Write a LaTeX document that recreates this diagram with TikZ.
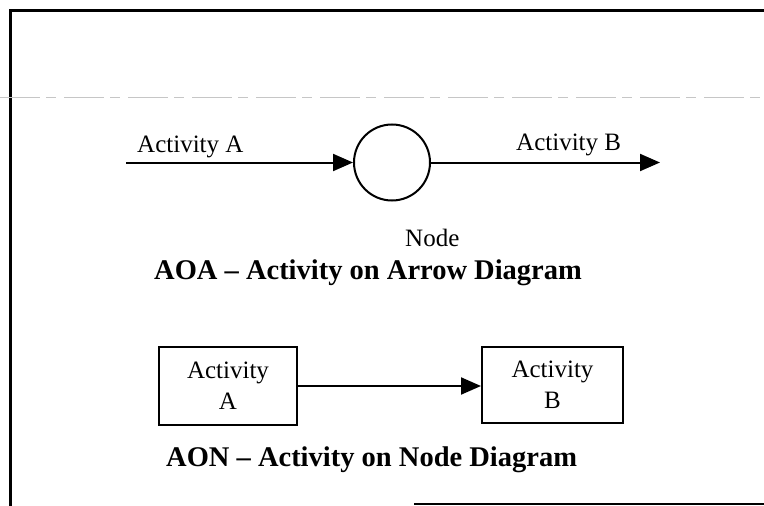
\documentclass[tikz,border=0pt]{standalone}
\usepackage{fontspec}
\setmainfont{Liberation Serif}
\usetikzlibrary{arrows.meta}
\tikzset{
    activity-box/.style = {draw, line width=2pt, rectangle, inner sep=0pt, align=center, font=\fontsize{25}{31}\selectfont},
    event-node/.style = {draw, line width=2pt, circle, minimum size=76pt, inner sep=0pt},
    label-text/.style = {inner sep=0pt, font=\fontsize{25}{28}\selectfont},
    title-text/.style = {inner sep=0pt, font=\fontsize{28.5}{32}\selectfont\bfseries},
    activity-arrow/.style = {line width=2pt, -{Triangle[length=20pt,width=17pt]}},
    frame-line/.style = {line width=3pt},
}

\begin{document}
\begin{tikzpicture}[x=1pt, y=-1pt]
\useasboundingbox (0,0) rectangle (764,506);
% frame and scan line
\draw[frame-line] (10,506) -- (10,10) -- (764,10);
\draw[line width=2pt] (414,504) -- (764,504);
\draw[gray!45, line width=0.8pt, dash pattern=on 40pt off 6pt on 10pt off 8pt] (0,97) -- (764,97);

% AOA
\node[event-node] (event) at (392,162.5) {};
\coordinate (a-start) at (126,162.5);
\coordinate (b-end) at (660,162.5);
\draw[activity-arrow] (a-start) -- (event.west);
\draw[activity-arrow] (event.east) -- (b-end);
\node[label-text, anchor=base west] (label-a) at (137,152) {Activity A};
\node[label-text, anchor=base west] (label-b) at (516,150) {Activity B};
\node[label-text, anchor=base west] (label-node) at (405,246) {Node};
\node[title-text, anchor=base west] (title-aoa) at (154,279) {AOA -- Activity on Arrow Diagram};

% AON
\node[activity-box, minimum width=138pt, minimum height=78pt] (box-a) at (228,386) {Activity\\A};
\node[activity-box, minimum width=141pt, minimum height=76pt] (box-b) at (552.5,385) {Activity\\B};
\draw[activity-arrow] (box-a.east) -- (box-a.east -| box-b.west);
\node[title-text, anchor=base west] (title-aon) at (166,466) {AON -- Activity on Node Diagram};
\end{tikzpicture}
\end{document}
